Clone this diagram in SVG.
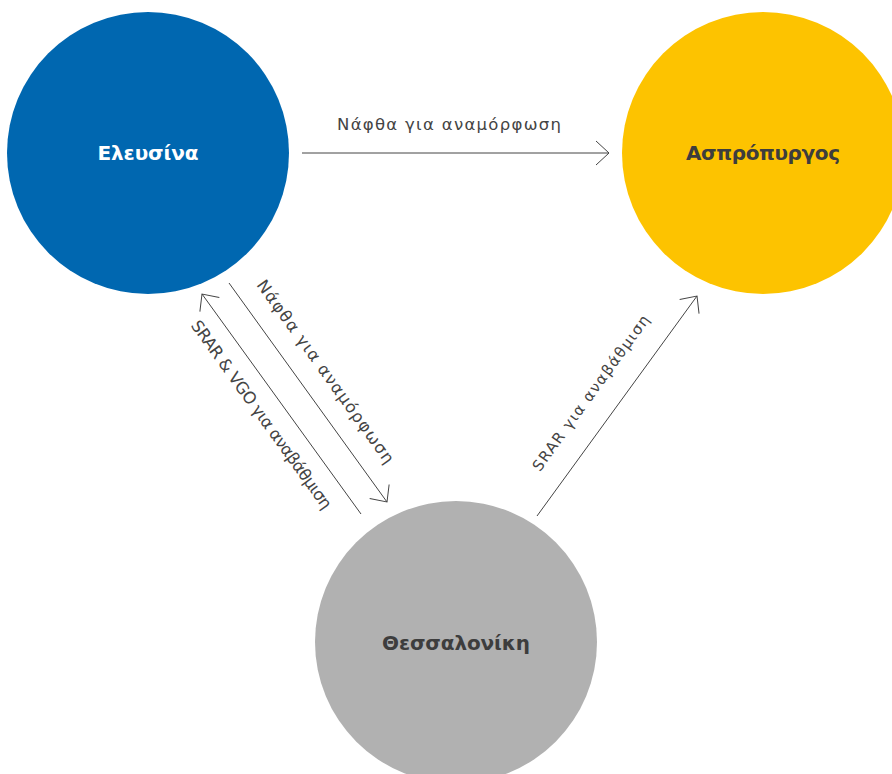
<svg xmlns="http://www.w3.org/2000/svg" width="892" height="774" viewBox="0 0 892 774">
  <style>
    .node-label { font-family: "DejaVu Sans", "Liberation Sans", sans-serif; font-weight: bold; font-size: 20px; text-anchor: middle; }
    .edge-label { font-family: "DejaVu Sans", "Liberation Sans", sans-serif; font-size: 16.5px; fill: #444444; text-anchor: middle; }
    .edge { stroke: #444444; stroke-width: 1; fill: none; marker-end: url(#arrow); }
  </style>
  <defs>
    <marker id="arrow" viewBox="0 0 14 24" refX="14" refY="12" markerWidth="14" markerHeight="24" markerUnits="userSpaceOnUse" orient="auto" overflow="visible">
      <path d="M1,0 L14,12 L1,24" fill="none" stroke="#444444" stroke-width="1"/>
    </marker>
  </defs>
  <rect width="892" height="774" fill="#ffffff"/>

  <g id="connectors">
    <line class="edge" x1="302" y1="153" x2="609" y2="153"/>
    <line class="edge" x1="229" y1="283" x2="387" y2="502"/>
    <line class="edge" x1="361" y1="514" x2="202" y2="294"/>
    <line class="edge" x1="537" y1="516" x2="697" y2="296"/>
    <text class="edge-label" x="449" y="130" textLength="224">Νάφθα για αναμόρφωση</text>
    <text class="edge-label" transform="translate(321,375) rotate(54.2)" textLength="222">Νάφθα για αναμόρφωση</text>
    <text class="edge-label" transform="translate(257,418) rotate(54.2)" textLength="228">SRAR &amp; VGO για αναβάθμιση</text>
    <text class="edge-label" style="font-size:15px" transform="translate(595,396) rotate(-54.1)" textLength="188">SRAR για αναβάθμιση</text>
  </g>

  <g id="node-elefsina">
    <circle cx="148" cy="153" r="141" fill="#0067B0"/>
    <text class="node-label" x="148" y="160" fill="#ffffff" textLength="101">Ελευσίνα</text>
  </g>
  <g id="node-aspropyrgos">
    <circle cx="763" cy="153" r="141" fill="#FDC300"/>
    <text class="node-label" x="763" y="160" fill="#3d3d3d" textLength="154">Ασπρόπυργος</text>
  </g>
  <g id="node-thessaloniki">
    <circle cx="456" cy="642" r="141" fill="#B1B1B1"/>
    <text class="node-label" x="456" y="650" fill="#3d3d3d" textLength="148">Θεσσαλονίκη</text>
  </g>
</svg>
